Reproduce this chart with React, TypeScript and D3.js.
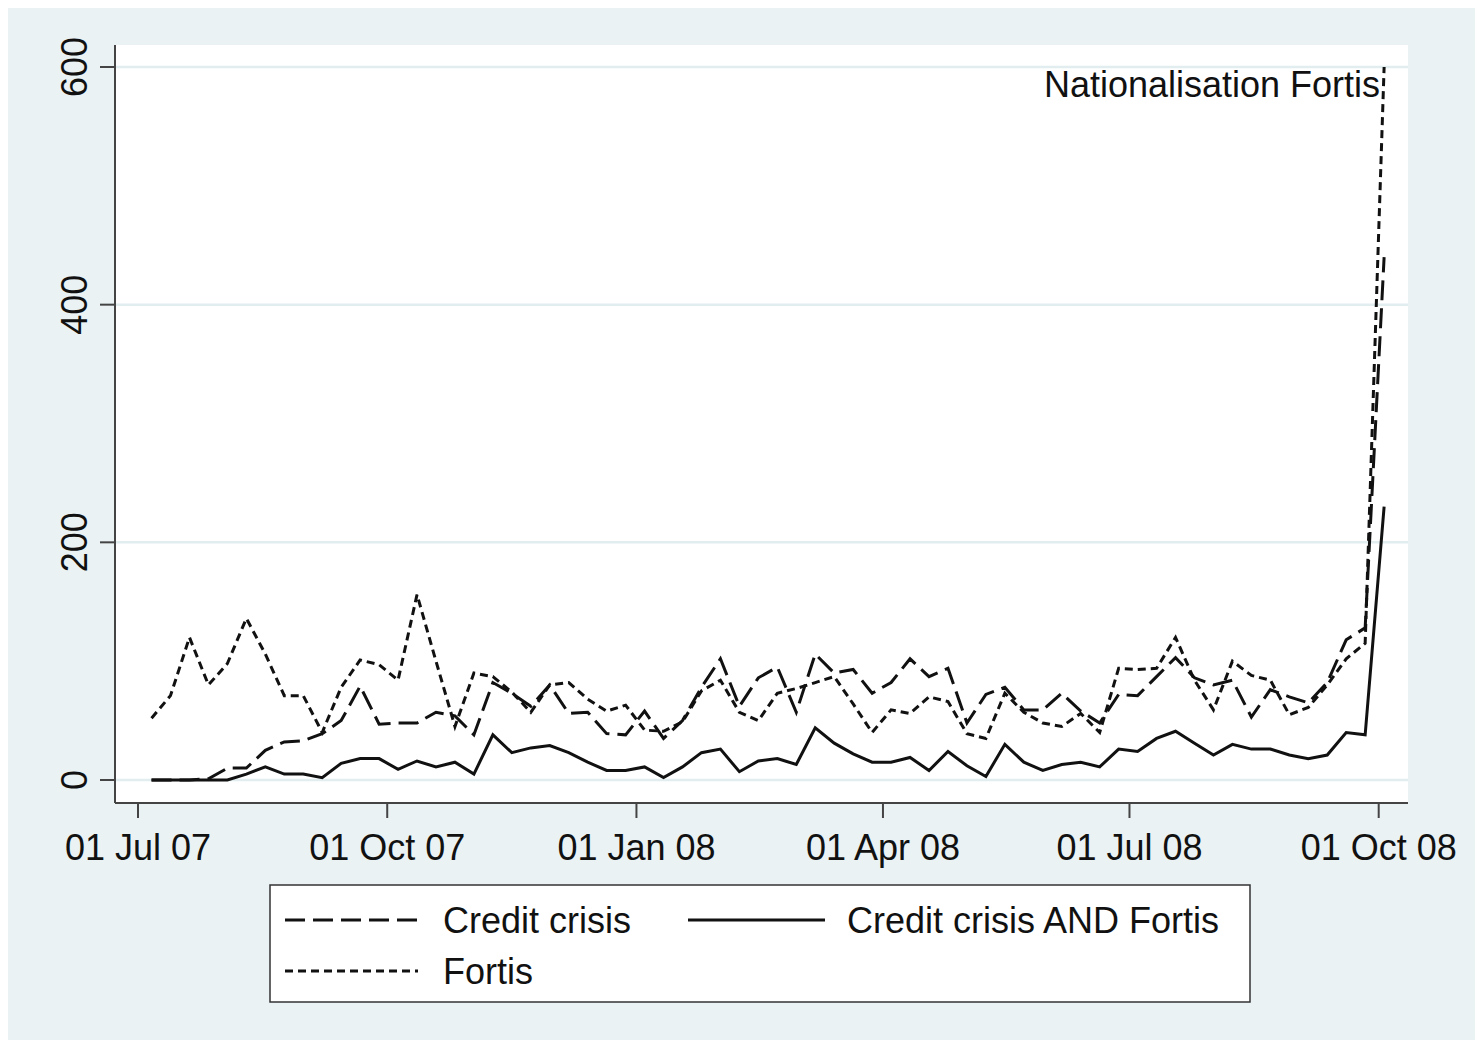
import React from "react";
import * as d3 from "d3";

// Weekly observation dates
const weeks = [
  "2007-07-06","2007-07-13","2007-07-20","2007-07-27","2007-08-03","2007-08-10","2007-08-17","2007-08-24","2007-08-31",
  "2007-09-07","2007-09-14","2007-09-21","2007-09-28","2007-10-05","2007-10-12","2007-10-19","2007-10-26",
  "2007-11-02","2007-11-09","2007-11-16","2007-11-23","2007-11-30","2007-12-07","2007-12-14","2007-12-21","2007-12-28",
  "2008-01-04","2008-01-11","2008-01-18","2008-01-25","2008-02-01","2008-02-08","2008-02-15","2008-02-22","2008-02-29",
  "2008-03-07","2008-03-14","2008-03-21","2008-03-28","2008-04-04","2008-04-11","2008-04-18","2008-04-25",
  "2008-05-02","2008-05-09","2008-05-16","2008-05-23","2008-05-30","2008-06-06","2008-06-13","2008-06-20","2008-06-27",
  "2008-07-04","2008-07-11","2008-07-18","2008-07-25","2008-08-01","2008-08-08","2008-08-15","2008-08-22","2008-08-29",
  "2008-09-05","2008-09-12","2008-09-19","2008-09-26","2008-10-03",
];

const creditCrisis = [
  0, 0, 0, 1, 10, 10, 25, 32, 33, 39, 50, 79, 47, 48, 48, 57, 54, 38, 82, 73, 62, 80,
  56, 57, 39, 38, 58, 35, 50, 78, 102, 62, 86, 95, 57, 106, 90, 93, 73, 82, 102, 87,
  94, 48, 72, 78, 59, 59, 73, 58, 48, 72, 71, 87, 103, 86, 80, 84, 53, 76, 70, 65,
  82, 118, 128, 440,
];

const fortis = [
  52, 71, 120, 80, 98, 136, 106, 71, 71, 40, 78, 101, 97, 84, 156, 100, 45, 90, 87, 74, 57, 80,
  82, 68, 58, 63, 42, 41, 49, 75, 84, 57, 50, 73, 77, 82, 87, 64, 40, 59, 56, 70,
  66, 39, 35, 73, 57, 48, 45, 56, 40, 94, 93, 94, 120, 84, 59, 100, 88, 84, 55, 61,
  80, 102, 115, 600,
];

const creditAndFortis = [
  0, 0, 0, 0, 0, 5, 11, 5, 5, 2, 14, 18, 18, 9, 16, 11, 15, 5, 38, 23, 27, 29,
  23, 15, 8, 8, 11, 2, 11, 23, 26, 7, 16, 18, 13, 44, 31, 22, 15, 15, 19, 8,
  24, 12, 3, 30, 15, 8, 13, 15, 11, 26, 24, 35, 41, 31, 21, 30, 26, 26, 21, 18,
  21, 40, 38, 230,
];

const yTicks = [0, 200, 400, 600];
const xTickDates = ["2007-07-01", "2007-10-01", "2008-01-01", "2008-04-01", "2008-07-01", "2008-10-01"];
const xTickLabels = ["01 Jul 07", "01 Oct 07", "01 Jan 08", "01 Apr 08", "01 Jul 08", "01 Oct 08"];

const seriesNames = ["Credit crisis", "Credit crisis AND Fortis", "Fortis"];
const annotation = "Nationalisation Fortis";

const FONT = "'Liberation Sans', Arial, Helvetica, sans-serif";
const BG = "#eaf2f4";
const GRID = "#e2edf0";
const INK = "#111111";
const LONG_DASH = "20,8";
const SHORT_DASH = "8,5";
const LW = 3;

export default function App() {
  const W = 1467;
  const H = 1032;
  const parse = d3.utcParse("%Y-%m-%d");

  const plot = { left: 107, right: 1400, top: 37, bottom: 795 };

  const x = d3
    .scaleUtc()
    .domain([parse("2007-07-01") as Date, parse("2008-10-01") as Date])
    .range([130, 1370.7]);
  const y = d3.scaleLinear().domain([0, 600]).range([772, 59]);

  const dates = weeks.map((d) => parse(d) as Date);

  const mk = (vals: number[]) =>
    d3
      .line<number>()
      .x((_, i) => x(dates[i]))
      .y((v) => y(v))(vals) as string;

  const fs = 36;

  return (
    <svg width={W} height={H} style={{ display: "block" }} fontFamily={FONT}>
      <rect x={0} y={0} width={W} height={H} fill={BG} />
      <rect
        x={plot.left}
        y={plot.top}
        width={plot.right - plot.left}
        height={plot.bottom - plot.top}
        fill="#ffffff"
      />
      {yTicks.map((t) => (
        <line
          key={"g" + t}
          x1={plot.left}
          x2={plot.right}
          y1={y(t)}
          y2={y(t)}
          stroke={GRID}
          strokeWidth={2.5}
        />
      ))}

      {/* series */}
      <path d={mk(creditAndFortis)} fill="none" stroke={INK} strokeWidth={LW} />
      <path d={mk(creditCrisis)} fill="none" stroke={INK} strokeWidth={LW} strokeDasharray={LONG_DASH} />
      <path d={mk(fortis)} fill="none" stroke={INK} strokeWidth={LW} strokeDasharray={SHORT_DASH} />

      {/* annotation */}
      <text x={x(dates[dates.length - 1]) - 4} y={y(600) + 30} textAnchor="end" fontSize={fs} fill={INK}>
        {annotation}
      </text>

      {/* axes */}
      <line x1={plot.left} x2={plot.left} y1={plot.top} y2={plot.bottom} stroke="#444" strokeWidth={2} />
      <line x1={plot.left} x2={plot.right} y1={plot.bottom} y2={plot.bottom} stroke="#444" strokeWidth={2} />
      {yTicks.map((t) => (
        <g key={"yt" + t}>
          <line x1={plot.left - 15} x2={plot.left} y1={y(t)} y2={y(t)} stroke="#444" strokeWidth={2} />
          <text
            transform={`translate(${79},${y(t)}) rotate(-90)`}
            textAnchor="middle"
            fontSize={fs}
            fill={INK}
          >
            {t}
          </text>
        </g>
      ))}
      {xTickDates.map((d, i) => {
        const xx = x(parse(d) as Date);
        return (
          <g key={"xt" + d}>
            <line x1={xx} x2={xx} y1={plot.bottom} y2={plot.bottom + 15} stroke="#444" strokeWidth={2} />
            <text x={xx} y={852} textAnchor="middle" fontSize={fs} fill={INK}>
              {xTickLabels[i]}
            </text>
          </g>
        );
      })}

      {/* legend */}
      <rect x={262} y={877} width={980} height={117} fill="#ffffff" stroke="#333" strokeWidth={1.5} />
      <line x1={277} x2={410} y1={912} y2={912} stroke={INK} strokeWidth={LW} strokeDasharray={LONG_DASH} />
      <text x={435} y={925} fontSize={fs} fill={INK}>{seriesNames[0]}</text>
      <line x1={680} x2={817} y1={912} y2={912} stroke={INK} strokeWidth={LW} />
      <text x={839} y={925} fontSize={fs} fill={INK}>{seriesNames[1]}</text>
      <line x1={277} x2={410} y1={963} y2={963} stroke={INK} strokeWidth={LW} strokeDasharray={SHORT_DASH} />
      <text x={435} y={976} fontSize={fs} fill={INK}>{seriesNames[2]}</text>
    </svg>
  );
}
